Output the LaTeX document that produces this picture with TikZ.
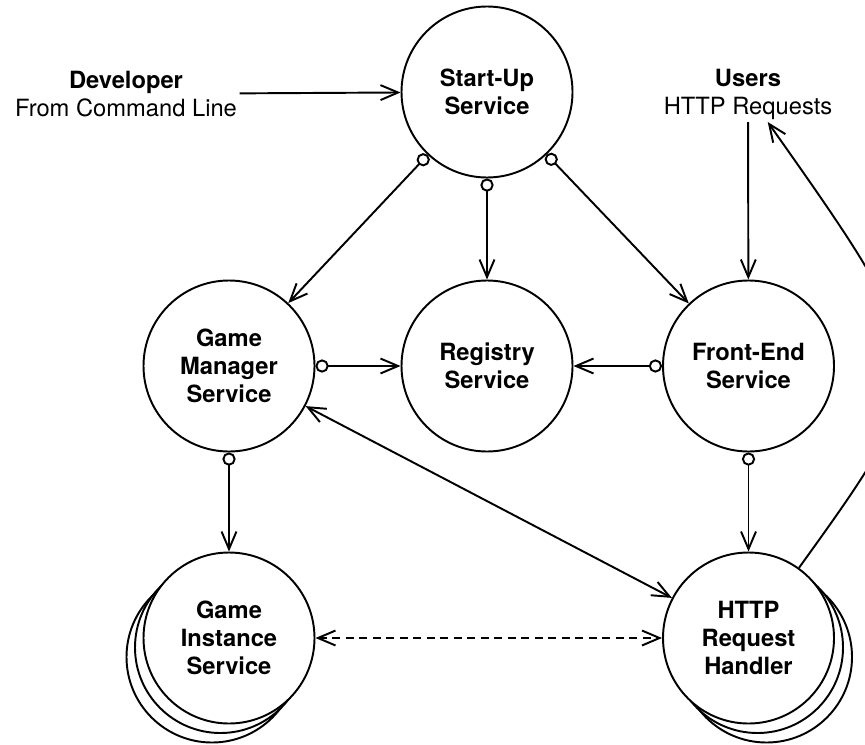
\documentclass[tikz,border=0pt]{standalone}
\usepackage{fontspec}
\setmainfont{TeX Gyre Heros}
\usetikzlibrary{arrows.meta}

\begin{document}
\begin{tikzpicture}[>={Straight Barb[length=10pt,width=8.5pt]},line width=1.1pt]
\tikzstyle{service}=[circle,draw,fill=white,minimum size=3.42cm,inner sep=0pt,align=center,font=\fontsize{13.5}{16}\selectfont\bfseries]
\tikzstyle{actor}=[align=center,inner sep=1pt,font=\fontsize{13.5}{16}\selectfont]
\tikzstyle{link}=[{Circle[open,length=7.5pt,width=7.5pt]}->]

\useasboundingbox (0,0) rectangle (17.3,14.88);

% replicas behind the game instances and the request handlers
\foreach \s in {2,1}{
  \node[service] at (4.58-0.17*\s,2.12-0.19*\s){};
  \node[service] at (14.97+0.18*\s,2.12-0.19*\s){};
}

\node[service](StartUp) at (9.74,13.04){Start-Up\\Service};
\node[service](Manager) at (4.58,7.56){Game\\Manager\\Service};
\node[service](Registry) at (9.74,7.56){Registry\\Service};
\node[service](FrontEnd) at (14.97,7.56){Front-End\\Service};
\node[service](Instance) at (4.58,2.12){Game\\Instance\\Service};
\node[service](Handler) at (14.97,2.12){HTTP\\Request\\Handler};
\node[actor](Developer) at (2.52,13.0){\textbf{Developer}\\From Command Line};
\node[actor](Users) at (14.96,13.0){\textbf{Users}\\HTTP Requests};
\coordinate (Bend) at (18.84,7.5);

\draw[->] (Developer) -- (StartUp);
\draw[->] (Users) -- (FrontEnd);
\draw[link] (StartUp) -- (Manager);
\draw[link] (StartUp) -- (Registry);
\draw[link] (StartUp) -- (FrontEnd);
\draw[link] (Manager) -- (Registry);
\draw[link] (FrontEnd) -- (Registry);
\draw[link] (Manager) -- (Instance);
\draw[link] (FrontEnd) -- (Handler);
\draw[<->] (Manager) -- (Handler);
\draw[<->,dash pattern=on 0.16cm off 0.11cm] (Instance) -- (Handler);
\draw[->] (Handler) .. controls (Bend) and (Bend) .. (Users);

\end{tikzpicture}
\end{document}
